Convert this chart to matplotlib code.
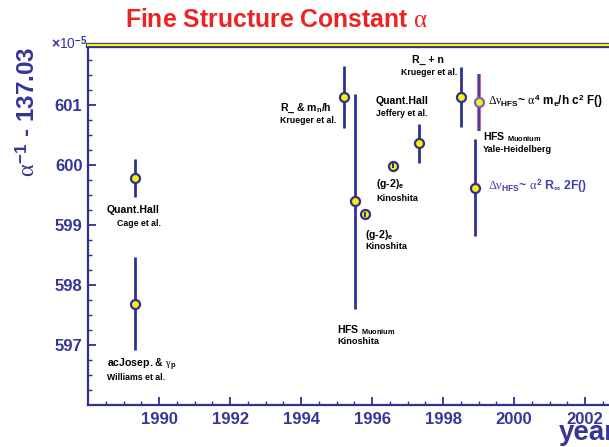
import matplotlib
matplotlib.use("Agg")
import matplotlib.pyplot as plt
import numpy as np

plt.rcParams['font.family'] = ['Liberation Sans', 'DejaVu Sans']
plt.rcParams['mathtext.fontset'] = 'custom'
plt.rcParams['mathtext.rm'] = 'Liberation Sans:bold'
plt.rcParams['mathtext.bf'] = 'Liberation Sans:bold'
plt.rcParams['mathtext.it'] = 'Liberation Serif'
plt.rcParams['mathtext.sf'] = 'Liberation Serif'

# measurements of alpha^-1 - 137.03 (units of 1e-5)
years = [1989.32, 1989.32, 1995.22, 1995.52, 1995.80, 1996.60, 1997.31, 1998.50, 1998.89, 1999.01]
values = [597.69, 599.78, 601.13, 599.40, 599.18, 599.99, 600.36, 601.14, 599.62, 601.05]
err_lo = [0.77, 0.32, 0.52, 1.80, 0.04, 0.04, 0.33, 0.50, 0.80, 0.48]
err_hi = [0.77, 0.32, 0.52, 1.78, 0.04, 0.04, 0.33, 0.49, 0.81, 0.47]
x_ticks = [1990, 1992, 1994, 1996, 1998, 2000, 2002]
y_ticks = [597, 598, 599, 600, 601]

blue = '#2E3192'
yellow = '#FFF200'
txtblue = '#35359A'

fig = plt.figure(figsize=(6.09, 4.47), dpi=100)
ax = fig.add_axes([88/609, 42/447, 1 - 88/609, 360/447])
ax.set_xlim(1988, 2002.67)
ax.set_ylim(596, 602)

# normal points (all but the alpha^4 HFS one, which is last)
for i in range(len(years) - 1):
    ax.errorbar(years[i], values[i], yerr=[[err_lo[i]], [err_hi[i]]], fmt='none',
                ecolor=blue, elinewidth=2, zorder=2)
    ax.plot(years[i], values[i], 'o', ms=6.5, mfc=yellow, mec=blue, mew=1.6, zorder=3)
    if err_lo[i] < 0.1:
        ax.errorbar(years[i], values[i], yerr=[[err_lo[i]], [err_hi[i]]], fmt='none',
                    ecolor=blue, elinewidth=1.4, zorder=4)

# HFS alpha^4 point: reddish outline bar
i = len(years) - 1
ax.errorbar(years[i], values[i], yerr=[[err_lo[i]], [err_hi[i]]], fmt='none',
            ecolor='#D07090', elinewidth=3, zorder=2)
ax.errorbar(years[i], values[i], yerr=[[err_lo[i]], [err_hi[i]]], fmt='none',
            ecolor='#3A3A9A', elinewidth=1.3, zorder=2)
ax.plot(years[i], values[i], 'o', ms=6.5, mfc=yellow, mec='#6A6AC8', mew=1.6, zorder=3)

big = dict(fontsize=7.6, fontweight='bold', color='black')
small = dict(fontsize=6.3, fontweight='bold', color='black')
kino = dict(fontsize=6.6, fontweight='bold', color='black')

ax.text(1988.53, 596.67, r"acJosep. & $\gamma_{\mathrm{p}}$", va='center', **big)
ax.text(1988.53, 596.45, "Williams et al.", va='center', **small)
ax.text(1988.53, 599.25, "Quant.Hall", va='center', **big)
ax.text(1988.83, 599.03, "Cage et al.", va='center', **small)
ax.text(1993.41, 600.95, r"R_ & m$_{\mathrm{n}}$/h", va='center', **big)
ax.text(1993.41, 600.74, "Krueger et al.", va='center', **small)
ax.text(1996.11, 601.06, "Quant.Hall", va='center', **big)
ax.text(1996.11, 600.85, "Jeffery et al.", va='center', **small)
ax.text(1997.12, 601.75, "R_ + n", va='center', **big)
ax.text(1996.81, 601.55, "Krueger et al.", va='center', **small)
ax.text(1999.12, 600.46, "HFS $_{\\mathrm{Muonium}}$", va='center', **big)
ax.text(1999.12, 600.25, "Yale-Heidelberg", va='center', **kino)
ax.text(1996.11, 599.68, r"(g-2)$_{\mathrm{e}}$", va='center', **big)
ax.text(1996.11, 599.44, "Kinoshita", va='center', **kino)
ax.text(1995.81, 598.83, r"(g-2)$_{\mathrm{e}}$", va='center', **big)
ax.text(1995.81, 598.64, "Kinoshita", va='center', **kino)
ax.text(1995.02, 597.25, "HFS $_{\\mathrm{Muonium}}$", va='center', **big)
ax.text(1995.02, 597.06, "Kinoshita", va='center', **kino)
ax.text(1999.27, 601.07,
        r"$\mathsf{\Delta}\nu_{\mathrm{HFS}}$~ $\alpha^{\mathrm{4}}$ m$_{\mathrm{e}}$/h c$^{\mathrm{2}}$ F()",
        va='center', fontsize=8.5, fontweight='bold', color='black')
ax.text(1999.27, 599.65,
        r"$\mathsf{\Delta}\nu_{\mathrm{HFS}}$~ $\alpha^{\mathrm{2}}$ R$_{\infty}$ 2F()",
        va='center', fontsize=8.8, fontweight='bold', color='#4040A8')

# axes styling
for s in ['top', 'right']:
    ax.spines[s].set_visible(False)
for s in ['left', 'bottom']:
    ax.spines[s].set_color(blue)
    ax.spines[s].set_linewidth(1.6)
ax.axhline(602, color=blue, lw=3.8, clip_on=False, zorder=5)
ax.axhline(602, color=yellow, lw=1.6, clip_on=False, zorder=6)

ax.set_xticks(x_ticks)
ax.set_xticklabels([str(t) for t in x_ticks])
ax.set_xticks(np.arange(1988.5, 2002.7, 0.5), minor=True)
ax.set_yticks(y_ticks)
ax.set_yticklabels([str(t) for t in y_ticks])
ax.set_yticks(np.arange(596.25, 602, 0.25), minor=True)
ax.tick_params(which='major', direction='in', length=5.5, width=1.3, color=blue,
               labelcolor=txtblue, labelsize=12)
ax.tick_params(which='minor', direction='in', length=3, width=1, color=blue)
ax.tick_params(axis='y', pad=4)
ax.tick_params(axis='x', pad=5)
for lab in ax.get_xticklabels() + ax.get_yticklabels():
    lab.set_fontweight('bold')

fig.text(51/609, 1 - 43/447, r"$\times$10$^{-5}$", fontsize=10, color=txtblue, va='center')
fig.text(28/609, 1 - 112/447, r"$\alpha^{-1}$ - 137.03", rotation=90, fontsize=17.5,
         fontweight='bold', color=txtblue, ha='center', va='center')
fig.text(559/609, 1 - 440/447, "year", fontsize=20, fontweight='bold', color=txtblue,
         ha='left', va='baseline')
fig.text(277/609, 1 - 20/447, r"Fine Structure Constant $\alpha$", fontsize=17.8,
         fontweight='bold', color='#EE2222', ha='center', va='center')

fig.savefig("out.png", dpi=100)
